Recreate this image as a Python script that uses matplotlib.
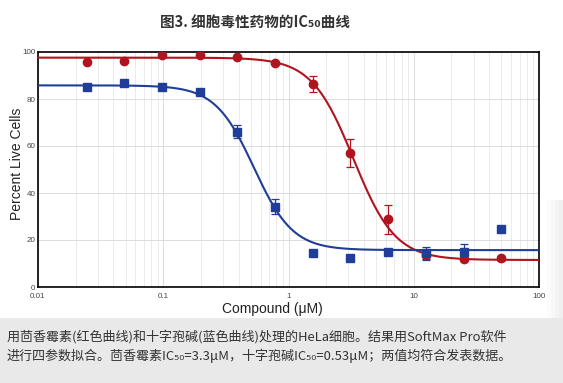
import numpy as np
import matplotlib
matplotlib.use("Agg")
import matplotlib.pyplot as plt
from matplotlib.patches import Rectangle
from matplotlib.ticker import LogLocator, FixedLocator, NullFormatter

plt.rcParams['font.family'] = ['Noto Sans CJK SC', 'DejaVu Sans']

# ---- data ----
conc = [0.0244, 0.0488, 0.0977, 0.195, 0.39, 0.78, 1.5625, 3.125, 6.25, 12.5, 25, 50]
red_vals = [95.9, 96.3, 98.7, 98.7, 98.0, 95.4, 86.2, 56.9, 28.9, 13.5, 12.0, 12.2]
red_err = [0, 0, 0, 0, 0, 0, 3.4, 6.0, 6.2, 1.6, 1.0, 1.0]
blue_vals = [85.2, 86.7, 85.2, 83.1, 66.1, 34.2, 14.6, 12.2, 15.0, 14.3, 15.0, 24.7]
blue_err = [0, 0, 0, 0, 2.8, 3.1, 0, 0, 0, 2.8, 3.5, 1.0]
# four-parameter logistic fits: top, bottom, IC50, hill slope
red_fit = [97.6, 11.5, 3.3, 2.6]
blue_fit = [85.8, 15.7, 0.53, 2.8]
x_ticks = [0.01, 0.1, 1, 10, 100]
x_tick_labels = ['0.01', '0.1', '1', '10', '100']
y_ticks = [0, 20, 40, 60, 80, 100]

title = '图3. 细胞毒性药物的IC₅₀曲线'
caption1 = '用茴香霉素(红色曲线)和十字孢碱(蓝色曲线)处理的HeLa细胞。结果用SoftMax Pro软件'
caption2 = '进行四参数拟合。茴香霉素IC₅₀=3.3μM，十字孢碱IC₅₀=0.53μM；两值均符合发表数据。'

RED = '#b0141e'
BLUE = '#1f3d99'


def four_pl(x, p):
    top, bottom, ic50, hill = p
    return bottom + (top - bottom) / (1 + (x / ic50) ** hill)


W, H = 563, 383
fig = plt.figure(figsize=(W / 100, H / 100), dpi=100)
fig.patch.set_facecolor('white')

# background panels
fig.patches.append(Rectangle((0, 0), 1, 1 - 318 / H, transform=fig.transFigure,
                             facecolor='#e9e9e9', edgecolor='none', zorder=-10))
for i, c in enumerate(['#fcfcfc', '#f8f8f8', '#f4f4f4', '#f0f0f0']):
    fig.patches.append(Rectangle((547 / W + i * 4 / W, 1 - 318 / H), 4 / W, (318 - 200) / H,
                                 transform=fig.transFigure, facecolor=c,
                                 edgecolor='none', zorder=-9))

ax = fig.add_axes([38 / W, 1 - 287 / H, (539 - 38) / W, (287 - 52) / H])
ax.set_facecolor('white')
ax.set_xscale('log')
ax.set_xlim(0.01, 100)
ax.set_ylim(0, 100)

xs = np.logspace(-2, 2, 400)
ax.plot(xs, four_pl(xs, red_fit), color=RED, lw=1.5, zorder=3)
ax.plot(xs, four_pl(xs, blue_fit), color=BLUE, lw=1.5, zorder=3)

ax.errorbar(conc, red_vals, yerr=red_err, fmt='o', color=RED, ms=6,
            elinewidth=0.9, capsize=3, capthick=0.9, zorder=4)
ax.errorbar(conc, blue_vals, yerr=blue_err, fmt='s', color=BLUE, ms=6,
            elinewidth=0.9, capsize=3, capthick=0.9, zorder=4)

ax.xaxis.set_major_locator(FixedLocator(x_ticks))
ax.set_xticklabels(x_tick_labels)
ax.xaxis.set_minor_locator(LogLocator(base=10, subs=np.arange(2, 10)))
ax.xaxis.set_minor_formatter(NullFormatter())
ax.set_yticks(y_ticks)
ax.set_yticklabels([str(v) for v in y_ticks])
ax.grid(True, which='major', color='#dcdcdc', lw=0.7)
ax.grid(True, which='minor', axis='x', color='#e8e8e8', lw=0.6)
ax.set_axisbelow(True)
ax.tick_params(which='both', length=0)
ax.tick_params(axis='x', pad=4, labelsize=5.8, labelcolor='#444444')
ax.tick_params(axis='y', pad=2, labelsize=5.8, labelcolor='#444444')
for lab in ax.get_xticklabels() + ax.get_yticklabels():
    lab.set_family('Liberation Sans')
for sp in ax.spines.values():
    sp.set_color('black')
    sp.set_linewidth(1.2)

fig.text(272 / W, 1 - 309 / H, 'Compound (μM)', ha='center', va='center',
         fontsize=10, family='Liberation Sans', color='#222222')
fig.text(17 / W, 1 - 164 / H, 'Percent Live Cells', ha='center', va='center',
         rotation=90, fontsize=10, family='Liberation Sans', color='#222222')

fig.text(255 / W, 1 - 22 / H, title, ha='center', va='center', fontsize=10.5,
         fontweight='bold', color='#333333')
fig.text(7 / W, 1 - 337 / H, caption1, ha='left', va='center', fontsize=9.4,
         color='#333333')
fig.text(7 / W, 1 - 356 / H, caption2, ha='left', va='center', fontsize=9.4,
         color='#333333')

fig.savefig('out.png', dpi=100, facecolor=fig.get_facecolor())
